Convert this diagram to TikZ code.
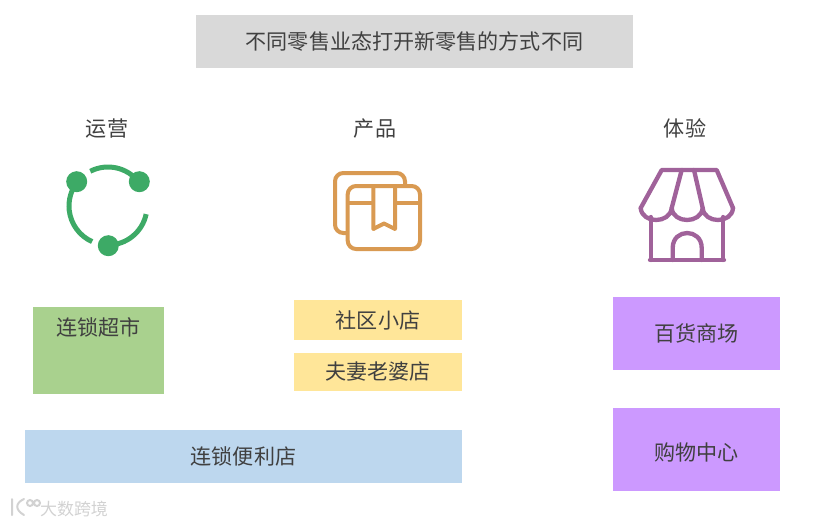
\documentclass[tikz,border=0pt]{standalone}
\usepackage{fontspec}
\setmainfont{Noto Sans CJK SC}
\usetikzlibrary{positioning}
\definecolor{txtgray}{HTML}{404040}
\definecolor{icongreen}{HTML}{3DAA66}
\definecolor{iconorange}{HTML}{D99A52}
\definecolor{iconpurple}{HTML}{A0629A}
\definecolor{markgray}{HTML}{D2D2D2}
\tikzset{
  heading/.style={text=txtgray,font=\fontsize{18pt}{20pt}\selectfont,inner sep=0pt},
  block/.style={heading,minimum width=#1},
  greenline/.style={draw=icongreen,line width=1.5mm},
  orangeline/.style={draw=iconorange,line width=1.2mm,rounded corners=2.5mm},
  purpleline/.style={draw=iconpurple,line width=1.3mm,line join=round,line cap=round},
  markline/.style={draw=markgray,line width=0.6mm,line cap=round}
}
\begin{document}
\begin{tikzpicture}[x=0.03cm,y=-0.03cm]
\useasboundingbox (0,0) rectangle (822,525);
\node[block=13.11cm,fill=black!15,minimum height=1.59cm] (title) at (414.5,41.5) {不同零售业态打开新零售的方式不同};
\node[heading] (ops) at (107,128.7) {运营};
\node[heading] (prod) at (375,128.7) {产品};
\node[heading] (exper) at (685,128.7) {体验};
\node[block=3.93cm,fill={rgb,255:red,169;green,209;blue,142},align=center,text width=3.93cm,text height=.84cm,text depth=1.77cm] (chain) at (98.5,350.5) {连锁超市};
\node[block=5.04cm,fill={rgb,255:red,255;green,230;blue,153},minimum height=1.2cm] (comm) at (378,320) {社区小店};
\node[block=5.04cm,fill={rgb,255:red,255;green,230;blue,153},minimum height=1.14cm] (mom) at (378,372) {夫妻老婆店};
\node[block=13.11cm,fill={rgb,255:red,189;green,215;blue,238},minimum height=1.59cm] (conv) at (243.5,456.5) {连锁便利店};
\node[block=5.01cm,fill={rgb,255:red,204;green,153;blue,255},minimum height=2.19cm] (dept) at (696.5,333.5) {百货商场};
\node[block=5.01cm,fill={rgb,255:red,204;green,153;blue,255},align=center,text width=5.01cm,text height=1.56cm,text depth=.93cm] (mall) at (696.5,449.5) {购物中心};
% operations icon
\draw[greenline] (108,206)+(-117:39) arc[start angle=-117,end angle=-38,radius=39];
\draw[greenline] (108,206)+(12:39) arc[start angle=12,end angle=90,radius=39];
\draw[greenline] (108,206)+(114:39) arc[start angle=114,end angle=218,radius=39];
\fill[icongreen] (76.7,181.7) circle (10.5) (139.3,181.7) circle (10.5) (108.3,245.7) circle (10.5);
% product icon
\draw[orangeline] (347.7,233) -- (335,233) -- (335,173) -- (405,173) -- (405,186);
\draw[orangeline] (347.7,186) rectangle (420,249);
\draw[iconorange,line width=1.2mm] (347.7,202.7) -- (373.3,202.7) (395,202.7) -- (420,202.7);
\draw[iconorange,line width=1.2mm,line join=round] (373.3,186) -- (373.3,229) -- (384,223.5) -- (395,229) -- (395,186);
% experience icon
\draw[purpleline] (640.7,208) -- (661.7,170) -- (716.7,170) -- (733,208);
\draw[purpleline] (671.7,208) -- (681.7,170) (702.7,208) -- (694,170);
\draw[purpleline] (640.7,208) .. controls (642,224) and (670,224) .. (671.7,208) .. controls (673,224) and (701,224) .. (702.7,208) .. controls (704,224) and (732,224) .. (733,208);
\draw[purpleline] (650.7,217) -- (650.7,260) (723.3,217) -- (723.3,260) (650,260) -- (724,260);
\draw[purpleline] (672.7,260) -- (672.7,248) .. controls (672.7,228) and (701.7,228) .. (701.7,248) -- (701.7,260);
% watermark
\draw[markline] (12,499) -- (12,515) (24,499) .. controls (15,503) and (15,510) .. (24,515);
\draw[markline] (30,503) circle (3) (37,503) circle (3);
\node[text=markgray,font=\fontsize{14.5pt}{16pt}\selectfont,inner sep=0pt] (mark) at (74,509) {大数跨境};
\end{tikzpicture}
\end{document}
